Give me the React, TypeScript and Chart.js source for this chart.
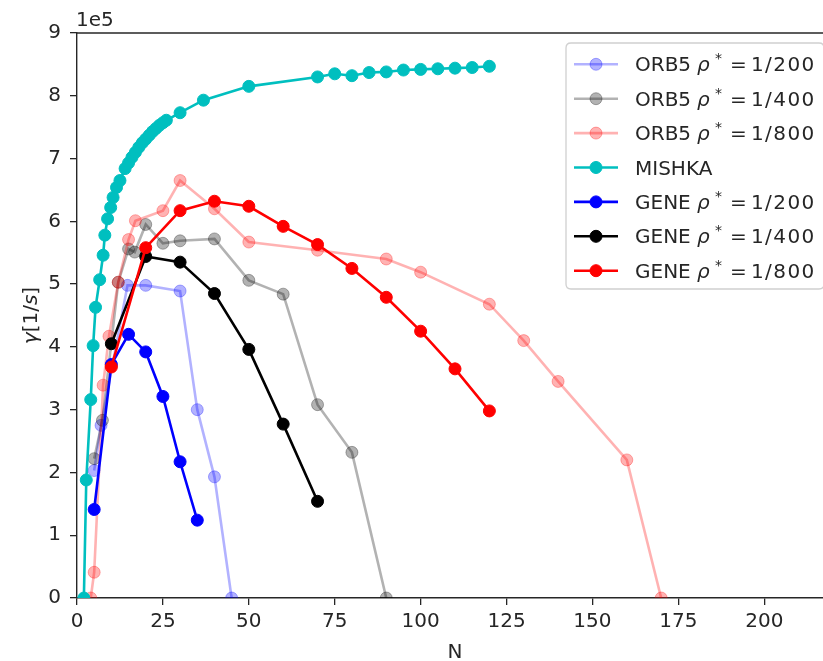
import React, { useEffect, useRef } from 'react';
import { Chart, registerables } from 'chart.js';
Chart.register(...registerables);

// growth rate values in units of 1e5 [1/s]
const ORB5_200_N = [5, 7, 14.7, 20, 30, 35, 40, 45];
const ORB5_200_G = [2.03, 2.75, 4.98, 4.98, 4.89, 3.0, 1.93, 0];

const ORB5_400_N = [5, 7.4, 12, 15, 16.8, 20, 25, 30, 40, 50, 60, 70, 80, 90];
const ORB5_400_G = [2.22, 2.83, 5.03, 5.56, 5.51, 5.95, 5.65, 5.69, 5.72, 5.06, 4.84, 3.08, 2.32, 0];

const ORB5_800_N = [4, 5, 7.6, 9.3, 12, 15, 17, 25, 30, 40, 50, 70, 90, 100, 120, 130, 140, 160, 170];
const ORB5_800_G = [0, 0.41, 3.39, 4.17, 5.03, 5.71, 6.01, 6.17, 6.65, 6.2, 5.67, 5.54, 5.4, 5.19, 4.68, 4.1, 3.45, 2.2, 0];

const MISHKA_N = [2, 2.7, 4, 4.7, 5.4, 6.6, 7.6, 8.1, 8.9, 9.8, 10.5, 11.5, 12.5, 14, 15, 16, 17, 18, 19, 20, 21, 22, 23, 24, 25, 26, 30, 36.8, 50, 70, 75, 80, 85, 90, 95, 100, 105, 110, 115, 120];
const MISHKA_G = [0, 1.88, 3.16, 4.02, 4.63, 5.07, 5.46, 5.78, 6.04, 6.22, 6.38, 6.54, 6.65, 6.84, 6.93, 7.02, 7.1, 7.18, 7.25, 7.31, 7.37, 7.43, 7.48, 7.53, 7.57, 7.61, 7.73, 7.93, 8.15, 8.3, 8.35, 8.32, 8.37, 8.38, 8.41, 8.42, 8.43, 8.44, 8.45, 8.47];

const GENE_200_N = [5, 10, 15, 20, 25, 30, 35];
const GENE_200_G = [1.41, 3.72, 4.2, 3.92, 3.21, 2.17, 1.24];

const GENE_400_N = [10, 20, 30, 40, 50, 60, 70];
const GENE_400_G = [4.05, 5.44, 5.35, 4.85, 3.96, 2.77, 1.54];

const GENE_800_N = [10, 20, 30, 40, 50, 60, 70, 80, 90, 100, 110, 120];
const GENE_800_G = [3.68, 5.58, 6.17, 6.32, 6.24, 5.92, 5.63, 5.25, 4.79, 4.25, 3.65, 2.98];

const X_TICKS = [0, 25, 50, 75, 100, 125, 150, 175, 200];
const Y_TICKS = [0, 1, 2, 3, 4, 5, 6, 7, 8, 9];
const Y_OFFSET_TEXT = '1e5';
const X_TITLE = 'N';

type Series = { code: string; rho: string | null; n: number[]; g: number[]; color: string; faint: boolean };
const SERIES: Series[] = [
  { code: 'ORB5', rho: '1/200', n: ORB5_200_N, g: ORB5_200_G, color: '0,0,255', faint: true },
  { code: 'ORB5', rho: '1/400', n: ORB5_400_N, g: ORB5_400_G, color: '0,0,0', faint: true },
  { code: 'ORB5', rho: '1/800', n: ORB5_800_N, g: ORB5_800_G, color: '255,0,0', faint: true },
  { code: 'MISHKA', rho: null, n: MISHKA_N, g: MISHKA_G, color: '0,191,191', faint: false },
  { code: 'GENE', rho: '1/200', n: GENE_200_N, g: GENE_200_G, color: '0,0,255', faint: false },
  { code: 'GENE', rho: '1/400', n: GENE_400_N, g: GENE_400_G, color: '0,0,0', faint: false },
  { code: 'GENE', rho: '1/800', n: GENE_800_N, g: GENE_800_G, color: '255,0,0', faint: false },
];

const FONT = '"DejaVu Sans", sans-serif';
const FS = 20;
const INK = '#262626';

function rgba(c: string, faint: boolean) {
  return `rgba(${c},${faint ? 0.3 : 1})`;
}

function drawPieces(ctx: CanvasRenderingContext2D, x: number, y: number, pieces: { t: string; f: string; dy?: number }[]) {
  let cx = x;
  for (const p of pieces) {
    ctx.font = p.f;
    ctx.fillText(p.t, cx, y + (p.dy || 0));
    cx += ctx.measureText(p.t).width;
  }
  return cx - x;
}

const decorPlugin = {
  id: 'decor',
  afterDraw(chart: any) {
    const ctx: CanvasRenderingContext2D = chart.ctx;
    const a = chart.chartArea;
    ctx.save();
    // top spine
    ctx.strokeStyle = INK;
    ctx.lineWidth = 1.4;
    ctx.beginPath();
    ctx.moveTo(a.left - 0.7, a.top);
    ctx.lineTo(a.right, a.top);
    ctx.stroke();

    ctx.fillStyle = INK;
    ctx.textAlign = 'left';
    ctx.textBaseline = 'alphabetic';
    // offset text
    ctx.font = `${FS}px ${FONT}`;
    ctx.fillText(Y_OFFSET_TEXT, a.left - 1, 26);
    // x title
    ctx.textAlign = 'center';
    ctx.fillText(X_TITLE, (a.left + a.right) / 2, 658);
    // y title: γ[1/s]
    ctx.textAlign = 'left';
    ctx.save();
    ctx.translate(37, (a.top + a.bottom) / 2);
    ctx.rotate(-Math.PI / 2);
    const yPieces = [
      { t: 'γ', f: `italic ${FS}px ${FONT}` },
      { t: '[1/', f: `${FS}px ${FONT}` },
      { t: 's', f: `italic ${FS}px ${FONT}` },
      { t: ']', f: `${FS}px ${FONT}` },
    ];
    let w = 0;
    for (const p of yPieces) { ctx.font = p.f; w += ctx.measureText(p.t).width; }
    drawPieces(ctx, -w / 2, 0, yPieces);
    ctx.restore();

    // legend
    const bx = 566, by = 43, bw = 258, bh = 246, r = 5;
    ctx.beginPath();
    ctx.moveTo(bx + r, by);
    ctx.lineTo(bx + bw - r, by);
    ctx.quadraticCurveTo(bx + bw, by, bx + bw, by + r);
    ctx.lineTo(bx + bw, by + bh - r);
    ctx.quadraticCurveTo(bx + bw, by + bh, bx + bw - r, by + bh);
    ctx.lineTo(bx + r, by + bh);
    ctx.quadraticCurveTo(bx, by + bh, bx, by + bh - r);
    ctx.lineTo(bx, by + r);
    ctx.quadraticCurveTo(bx, by, bx + r, by);
    ctx.closePath();
    ctx.fillStyle = 'rgba(255,255,255,0.8)';
    ctx.fill();
    ctx.strokeStyle = '#d0d0d0';
    ctx.lineWidth = 1.3;
    ctx.stroke();

    SERIES.forEach((s, i) => {
      const cy = 64.3 + i * 34.4;
      const base = cy + 7;
      const col = rgba(s.color, s.faint);
      ctx.strokeStyle = col;
      ctx.lineWidth = 2.6;
      ctx.beginPath();
      ctx.moveTo(574, cy);
      ctx.lineTo(618, cy);
      ctx.stroke();
      ctx.beginPath();
      ctx.arc(596, cy, 6, 0, Math.PI * 2);
      ctx.fillStyle = col;
      ctx.fill();
      ctx.lineWidth = 1;
      ctx.stroke();
      ctx.fillStyle = INK;
      ctx.textAlign = 'left';
      ctx.font = `${FS}px ${FONT}`;
      ctx.fillText(s.code, 635, base);
      if (s.rho) {
        ctx.font = `italic ${FS}px ${FONT}`;
        ctx.fillText('ρ', 697, base);
        ctx.font = `${Math.round(FS * 0.72)}px ${FONT}`;
        ctx.fillText('*', 715, base - 8);
        ctx.font = `${FS}px ${FONT}`;
        ctx.fillText('=', 730, base);
        (ctx as any).letterSpacing = '1.4px';
        ctx.fillText(s.rho, 751, base);
        (ctx as any).letterSpacing = '0px';
      }
    });
    ctx.restore();
  },
};

export default function App() {
  const ref = useRef<HTMLCanvasElement>(null);
  useEffect(() => {
    const canvas = ref.current!;
    const datasets = SERIES.map((s, i) => {
      const col = rgba(s.color, s.faint);
      return {
        label: s.code + (s.rho ? ' ρ* = ' + s.rho : ''),
        data: s.n.map((n, k) => ({ x: n, y: s.g[k] })),
        borderColor: col,
        backgroundColor: col,
        pointBackgroundColor: col,
        pointBorderColor: col,
        pointBorderWidth: 1,
        pointRadius: 6,
        borderWidth: 2.6,
        tension: 0,
        showLine: true,
        clip: 0,
        order: SERIES.length - 1 - i,
      };
    });
    const tickFont = { family: FONT, size: FS };
    const chart = new Chart(canvas, {
      type: 'line',
      data: { datasets },
      options: {
        responsive: false,
        devicePixelRatio: 1,
        animation: false,
        layout: { padding: { left: 0, top: 33, right: 6.5, bottom: 0 } },
        plugins: { legend: { display: false }, tooltip: { enabled: false } },
        scales: {
          x: {
            type: 'linear',
            min: 0,
            max: 220,
            afterBuildTicks: (sc: any) => { sc.ticks = X_TICKS.map((v) => ({ value: v })); },
            afterFit: (sc: any) => { sc.height = 63; },
            ticks: { font: tickFont, color: INK, padding: 5, maxRotation: 0, autoSkip: false },
            grid: { drawOnChartArea: false, drawTicks: true, tickLength: 7, color: INK, tickColor: INK, lineWidth: 1.3 },
            border: { display: true, color: INK, width: 1.4 },
          },
          y: {
            type: 'linear',
            min: 0,
            max: 9,
            afterBuildTicks: (sc: any) => { sc.ticks = Y_TICKS.map((v) => ({ value: v })); },
            afterFit: (sc: any) => { sc.width = 77; },
            ticks: { font: tickFont, color: INK, padding: 9, autoSkip: false },
            grid: { drawOnChartArea: false, drawTicks: true, tickLength: 7, color: INK, tickColor: INK, lineWidth: 1.3 },
            border: { display: true, color: INK, width: 1.4 },
          },
        },
      },
      plugins: [decorPlugin],
    } as any);
    return () => chart.destroy();
  }, []);
  return (
    <div style={{ position: 'absolute', left: 0, top: 0, width: 823, height: 661, overflow: 'hidden', background: '#fff' }}>
      <canvas ref={ref} width={840} height={661} style={{ display: 'block', width: 840, height: 661 }} />
    </div>
  );
}
